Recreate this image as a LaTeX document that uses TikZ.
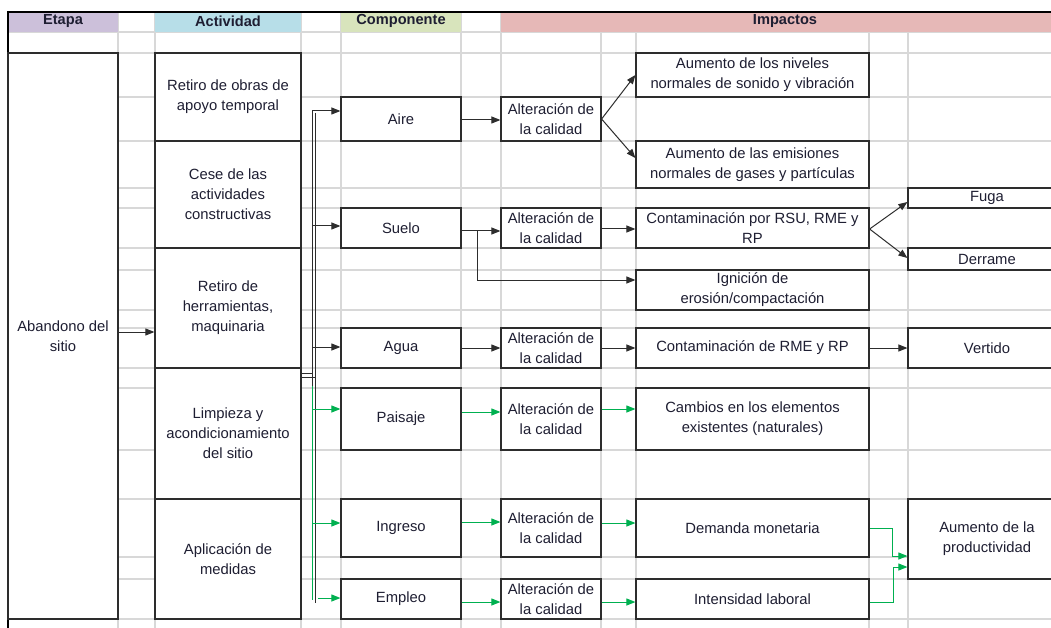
\documentclass[tikz,border=0pt]{standalone}
\usepackage{fontspec}
\setmainfont{Liberation Sans}
\usetikzlibrary{arrows.meta,calc}
\definecolor{gridc}{RGB}{216,216,216}
\definecolor{boxc}{RGB}{45,45,45}
\definecolor{txt}{RGB}{30,30,50}
\definecolor{grn}{RGB}{0,176,80}
\definecolor{hEtapa}{RGB}{204,192,218}
\definecolor{hAct}{RGB}{183,222,232}
\definecolor{hComp}{RGB}{216,228,188}
\definecolor{hImp}{RGB}{230,184,183}
\begin{document}
\begin{tikzpicture}[x=1pt,y=-1pt,
  gridline/.style={draw=gridc, line width=1.1pt},
  cell/.style={draw=boxc, line width=1.2pt, fill=white, inner sep=0pt, align=center,
    text=txt, font=\fontsize{14.8}{20}\selectfont},
  hdr/.style={inner sep=0pt, text=txt, font=\bfseries\fontsize{14.6}{18}\selectfont},
  ln/.style={draw=boxc, line width=1pt},
  gln/.style={draw=grn, line width=1pt},
  arr/.style={ln, -{Triangle[length=9pt,width=7pt]}},
  garr/.style={gln, -{Triangle[length=9pt,width=7pt]}}]
\useasboundingbox (0,0) rectangle (1051,628);
\clip (0,0) rectangle (1051,628);
\fill[white] (0,0) rectangle (1051,628);
% grid
\foreach \x in {118,155,301,341,461,501} \draw[gridline] (\x,12) -- (\x,628);
\foreach \x in {601,636,869,908} \draw[gridline] (\x,32) -- (\x,628);
\foreach \y in {32,53,97,141,188,208,248,270,310,328,368,388,450,499,557,579,619}
  \draw[gridline] (8,\y) -- (1051,\y);
% header fills
\fill[hEtapa] (8,12) rectangle (118,32);
\fill[hAct] (155,12) rectangle (301,32);
\fill[hComp] (341,12) rectangle (461,32);
\fill[hImp] (501,12) rectangle (1060,32);
\draw[black, line width=2pt] (8,12) -- (1060,12);
\draw[black, line width=2pt] (8,11) -- (8,630);
\node[hdr] (hE) at (63,21) {Etapa};
\node[hdr] (hA) at (228,21) {Actividad};
\node[hdr] (hC) at (401,21) {Componente};
\node[hdr] (hI) at (785,21) {Impactos};
% Etapa
\node[cell, minimum width=110pt, minimum height=566pt] (etapa) at (63,336) {Abandono del\\sitio};
% Actividades
\node[cell, minimum width=146pt, minimum height=88pt] (a1) at (228,97) {Retiro de obras de\\apoyo temporal};
\node[cell, minimum width=146pt, minimum height=107pt] (a2) at (228,194.5) {Cese de las\\actividades\\constructivas};
\node[cell, minimum width=146pt, minimum height=120pt] (a3) at (228,308) {Retiro de\\herramientas,\\maquinaria};
\node[cell, minimum width=146pt, minimum height=131pt] (a4) at (228,433.5) {Limpieza y\\acondicionamiento\\del sitio};
\node[cell, minimum width=146pt, minimum height=120pt] (a5) at (228,559) {Aplicación de\\medidas};
% Componentes
\node[cell, minimum width=120pt, minimum height=44pt] (aire) at (401,119) {Aire};
\node[cell, minimum width=120pt, minimum height=40pt] (suelo) at (401,228) {Suelo};
\node[cell, minimum width=120pt, minimum height=40pt] (agua) at (401,348) {Agua};
\node[cell, minimum width=120pt, minimum height=62pt] (paisaje) at (401,419) {Paisaje};
\node[cell, minimum width=120pt, minimum height=58pt] (ingreso) at (401,528) {Ingreso};
\node[cell, minimum width=120pt, minimum height=40pt] (empleo) at (401,599) {Empleo};
% Alteracion
\node[cell, minimum width=100pt, minimum height=44pt] (alt1) at (551,119) {Alteración de\\la calidad};
\node[cell, minimum width=100pt, minimum height=40pt] (alt2) at (551,228) {Alteración de\\la calidad};
\node[cell, minimum width=100pt, minimum height=40pt] (alt3) at (551,348) {Alteración de\\la calidad};
\node[cell, minimum width=100pt, minimum height=62pt] (alt4) at (551,419) {Alteración de\\la calidad};
\node[cell, minimum width=100pt, minimum height=58pt] (alt5) at (551,528) {Alteración de\\la calidad};
\node[cell, minimum width=100pt, minimum height=40pt] (alt6) at (551,599) {Alteración de\\la calidad};
% Impactos
\node[cell, minimum width=233pt, minimum height=44pt] (i1) at (752.5,75) {Aumento de los niveles\\normales de sonido y vibración};
\node[cell, minimum width=233pt, minimum height=47pt] (i2) at (752.5,164.5) {Aumento de las emisiones\\normales de gases y partículas};
\node[cell, minimum width=233pt, minimum height=40pt] (i3) at (752.5,228) {Contaminación por RSU, RME y\\RP};
\node[cell, minimum width=233pt, minimum height=40pt] (i4) at (752.5,290) {Ignición de\\erosión/compactación};
\node[cell, minimum width=233pt, minimum height=40pt] (i5) at (752.5,348) {Contaminación de RME y RP};
\node[cell, minimum width=233pt, minimum height=62pt] (i6) at (752.5,419) {Cambios en los elementos\\existentes (naturales)};
\node[cell, minimum width=233pt, minimum height=58pt] (i7) at (752.5,528) {Demanda monetaria};
\node[cell, minimum width=233pt, minimum height=40pt] (i8) at (752.5,599) {Intensidad laboral};
% Column 5
\node[cell, minimum width=158pt, minimum height=20pt] (fuga) at (987,198) {Fuga};
\node[cell, minimum width=158pt, minimum height=22pt] (derrame) at (987,259) {Derrame};
\node[cell, minimum width=158pt, minimum height=40pt] (vertido) at (987,348) {Vertido};
\node[cell, minimum width=158pt, minimum height=80pt] (prod) at (987,539) {Aumento de la\\productividad};
% bus
\coordinate (busA) at (312,111);
\coordinate (busAg) at (312,386);
\coordinate (busAe) at (312,600);
\coordinate (busB) at (315.5,113);
\coordinate (busBe) at (315.5,603);
\coordinate (j1) at (312,373);
\coordinate (j2) at (315.5,377);
\draw[ln] (busA) -- (busAg);
\draw[gln] (busAg) -- (busAe);
\draw[ln] (busB) -- (busBe);
\draw[ln] (a4.east |- j1) -- (j1);
\draw[ln] (a4.east |- j2) -- (j2);
% etapa -> actividad
\coordinate (eA) at (0,332);
\draw[arr] (etapa.east |- eA) -- (a3.west |- eA);
% bus -> componentes
\coordinate (bS) at (312,226);
\coordinate (bW) at (312,347);
\coordinate (bP) at (312,409);
\coordinate (bI) at (312,523);
\coordinate (bE) at (318,598);
\draw[arr] (busA) -- (busA -| aire.west);
\draw[arr] (bS) -- (bS -| suelo.west);
\draw[arr] (bW) -- (bW -| agua.west);
\draw[garr] (bP) -- (bP -| paisaje.west);
\draw[garr] (bI) -- (bI -| ingreso.west);
\draw[garr] (bE) -- (bE -| empleo.west);
% componentes -> alteracion
\coordinate (y120) at (0,120);
\coordinate (sj) at (477,231);
\coordinate (ig) at (0,280);
\coordinate (y348) at (0,348);
\coordinate (y412) at (0,412);
\coordinate (y522) at (0,522);
\coordinate (y602) at (0,602);
\draw[arr] (aire.east |- y120) -- (alt1.west |- y120);
\draw[ln] (suelo.east |- sj) -- (sj);
\draw[arr] (sj) -- (sj -| alt2.west);
\draw[arr] (sj) |- (i4.west |- ig);
\draw[arr] (agua.east |- y348) -- (alt3.west |- y348);
\draw[garr] (paisaje.east |- y412) -- (alt4.west |- y412);
\draw[garr] (ingreso.east |- y522) -- (alt5.west |- y522);
\draw[garr] (empleo.east |- y602) -- (alt6.west |- y602);
% alteracion -> impactos
\coordinate (f1) at (0,119);
\coordinate (t1) at (0,75);
\coordinate (t2) at (0,158);
\coordinate (y229) at (0,229);
\coordinate (y202) at (0,202);
\coordinate (y258) at (0,258);
\coordinate (y409) at (0,409);
\coordinate (y523) at (0,523);
\draw[arr] (alt1.east |- f1) -- (i1.west |- t1);
\draw[arr] (alt1.east |- f1) -- (i2.west |- t2);
\draw[arr] (alt2.east |- y229) -- (i3.west |- y229);
\draw[arr] (i3.east |- y229) -- (fuga.west |- y202);
\draw[arr] (i3.east |- y229) -- (derrame.west |- y258);
\draw[arr] (alt3.east |- y348) -- (i5.west |- y348);
\draw[arr] (i5.east |- y348) -- (vertido.west |- y348);
\draw[garr] (alt4.east |- y409) -- (i6.west |- y409);
\draw[garr] (alt5.east |- y523) -- (i7.west |- y523);
\draw[garr] (alt6.east |- y602) -- (i8.west |- y602);
% to productividad
\coordinate (k1) at (892,528);
\coordinate (k1b) at (0,556);
\coordinate (k2) at (893,602);
\coordinate (k2b) at (0,567);
\draw[garr] (i7.east |- k1) -- (k1) |- (prod.west |- k1b);
\draw[garr] (i8.east |- k2) -- (k2) |- (prod.west |- k2b);
\end{tikzpicture}
\end{document}
